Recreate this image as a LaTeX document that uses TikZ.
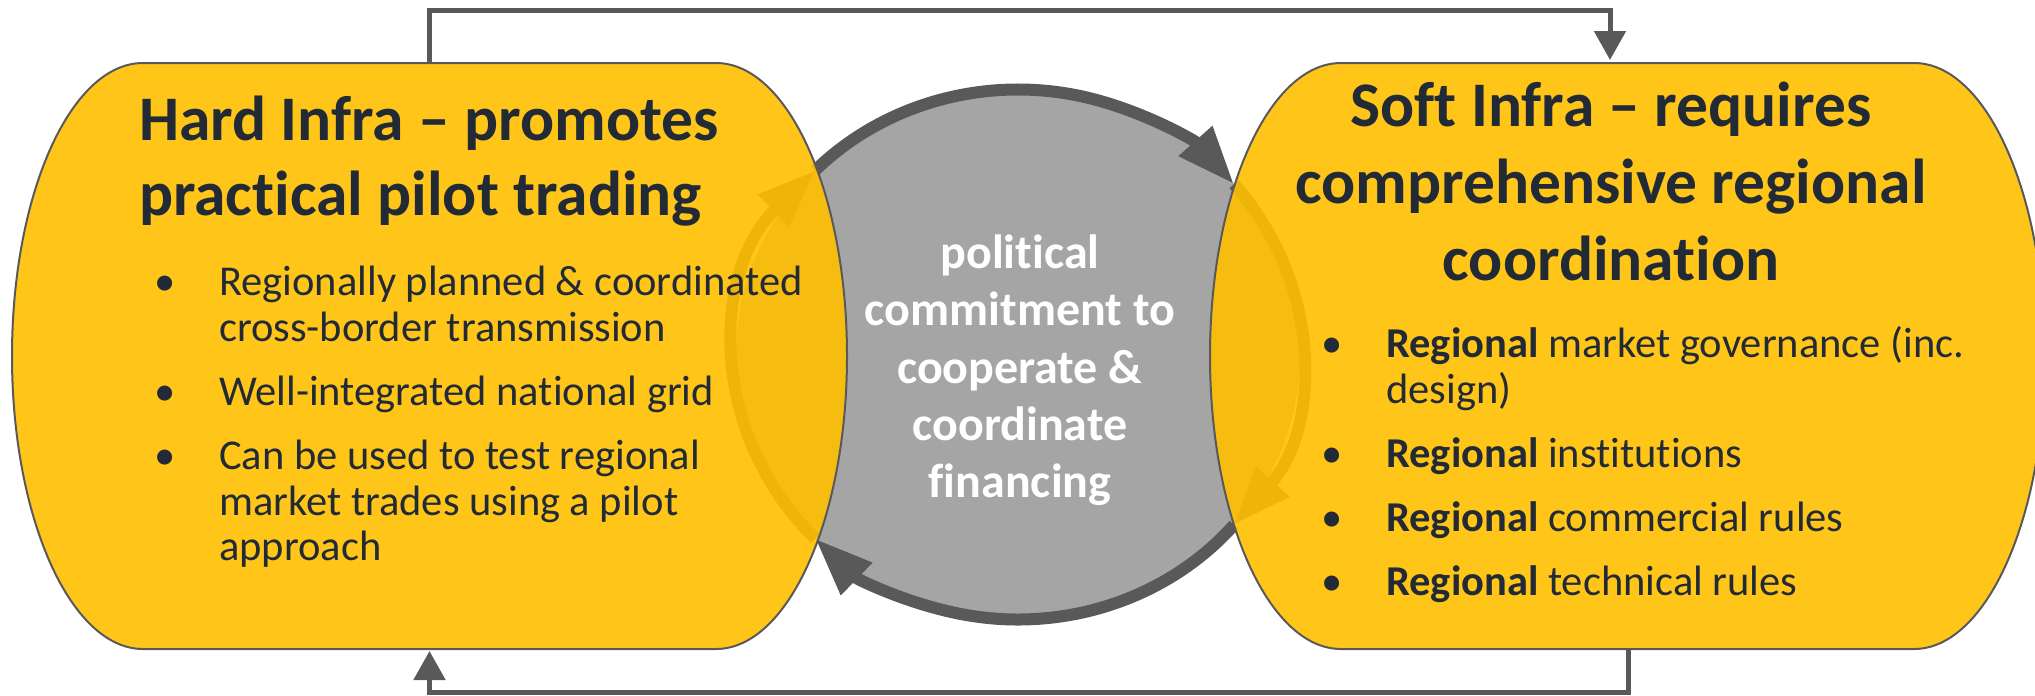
\documentclass[tikz,border=0pt]{standalone}
\usepackage{fontspec}
\setmainfont{Carlito}[Ligatures=NoCommon]
\usetikzlibrary{arrows.meta,calc}
\definecolor{gold}{HTML}{FFC000}
\definecolor{ringgray}{HTML}{595959}
\definecolor{discgray}{HTML}{A5A5A5}
\definecolor{ink}{HTML}{222A35}
\tikzset{
  ttl/.style={font=\fontsize{63.5}{75}\selectfont\bfseries, text=ink, inner sep=0pt},
  bul/.style={font=\fontsize{42.5}{46}\selectfont, text=ink, inner sep=0pt, anchor=base west},
  bdot/.style={font=\fontsize{42.5}{46}\selectfont, text=ink, inner sep=0pt, anchor=base},
  ctr/.style={font=\fontsize{48}{57}\selectfont\bfseries, text=white, inner sep=0pt, anchor=base},
  ringarc/.style={line width=12pt, draw=ringgray, -{Triangle[length=58pt,width=42pt]}},
  conn/.style={line width=5pt, draw=ringgray},
  conntip/.style={-{Triangle[length=29pt,width=31pt]}},
  infra/.style={fill=gold, fill opacity=0.9, draw=ringgray, draw opacity=1, line width=2pt},
}
\begin{document}
\begin{tikzpicture}[x=1pt,y=1pt]
\useasboundingbox (0,0) rectangle (2035,-696);
\fill[white] (0,0) rectangle (2035,-696);
\clip (0,0) rectangle (2035,-696);

% central disc with cycle of arrows
\coordinate (C) at (1018,-354.5);
\fill[discgray] (C) ellipse [x radius=282, y radius=265];
\draw[ringarc] (C) ++(136:282 and 265) arc[start angle=136, end angle=40, x radius=282, y radius=265];
\draw[ringarc] (C) ++(40:282 and 265) arc[start angle=40, end angle=-40, x radius=282, y radius=265];
\draw[ringarc] (C) ++(-40:282 and 265) arc[start angle=-40, end angle=-136, x radius=282, y radius=265];
\draw[ringarc] (C) ++(-136:282 and 265) arc[start angle=-136, end angle=-224, x radius=282, y radius=265];

% hard infra shape
\draw[infra] (143,-63) -- (716,-63)
  arc[start angle=90, end angle=-90, x radius=131, y radius=293]
  -- (143,-649)
  arc[start angle=270, end angle=90, x radius=131, y radius=293] -- cycle;
% soft infra shape
\draw[infra] (1341,-63) -- (1914,-63)
  arc[start angle=90, end angle=-90, x radius=131, y radius=293]
  -- (1341,-649)
  arc[start angle=270, end angle=90, x radius=131, y radius=293] -- cycle;

% connectors
\coordinate (hardTop) at (429.5,-63);
\coordinate (softTopIn) at (1610,-60);
\coordinate (softBot) at (1628,-649);
\coordinate (hardBotIn) at (429.5,-651);
\coordinate (topY) at (0,-10.5);
\coordinate (botY) at (0,-692);
\draw[conn,conntip] (hardTop) -- (hardTop |- topY) -| (softTopIn);
\draw[conn,conntip] (softBot) -- (softBot |- botY) -| (hardBotIn);

% hard infra text
\node[ttl, anchor=base west] (ht1) at (139,-140) {Hard Infra – promotes};
\node[ttl, anchor=base west] (ht2) at (139,-215) {practical pilot trading};
\node[bdot] (hb1) at (165,-295) {\textbullet};
\node[bul] (h1a) at (219,-295) {Regionally planned \& coordinated};
\node[bul] (h1b) at (219,-341) {cross-border transmission};
\node[bdot] (hb2) at (165,-405) {\textbullet};
\node[bul] (h2a) at (219,-405) {Well-integrated national grid};
\node[bdot] (hb3) at (165,-469) {\textbullet};
\node[bul] (h3a) at (219,-469) {Can be used to test regional};
\node[bul] (h3b) at (219,-515) {market trades using a pilot};
\node[bul] (h3c) at (219,-560) {approach};

% soft infra text
\node[ttl, anchor=base] (st1) at (1611,-126.5) {Soft Infra – requires};
\node[ttl, anchor=base] (st2) at (1611,-203.5) {comprehensive regional};
\node[ttl, anchor=base] (st3) at (1611,-280.5) {coordination};
\node[bdot] (sb1) at (1332,-357) {\textbullet};
\node[bul] (s1a) at (1386,-357) {\textbf{Regional} market governance (inc.};
\node[bul] (s1b) at (1386,-403) {design)};
\node[bdot] (sb2) at (1332,-467) {\textbullet};
\node[bul] (s2a) at (1386,-467) {\textbf{Regional} institutions};
\node[bdot] (sb3) at (1332,-531) {\textbullet};
\node[bul] (s3a) at (1386,-531) {\textbf{Regional} commercial rules};
\node[bdot] (sb4) at (1332,-595) {\textbullet};
\node[bul] (s4a) at (1386,-595) {\textbf{Regional} technical rules};

% centre text
\node[ctr] (c1) at (1020,-268) {political};
\node[ctr] (c2) at (1020,-325) {commitment to};
\node[ctr] (c3) at (1020,-383) {cooperate \&};
\node[ctr] (c4) at (1020,-440) {coordinate};
\node[ctr] (c5) at (1020,-497) {financing};
\end{tikzpicture}
\end{document}
